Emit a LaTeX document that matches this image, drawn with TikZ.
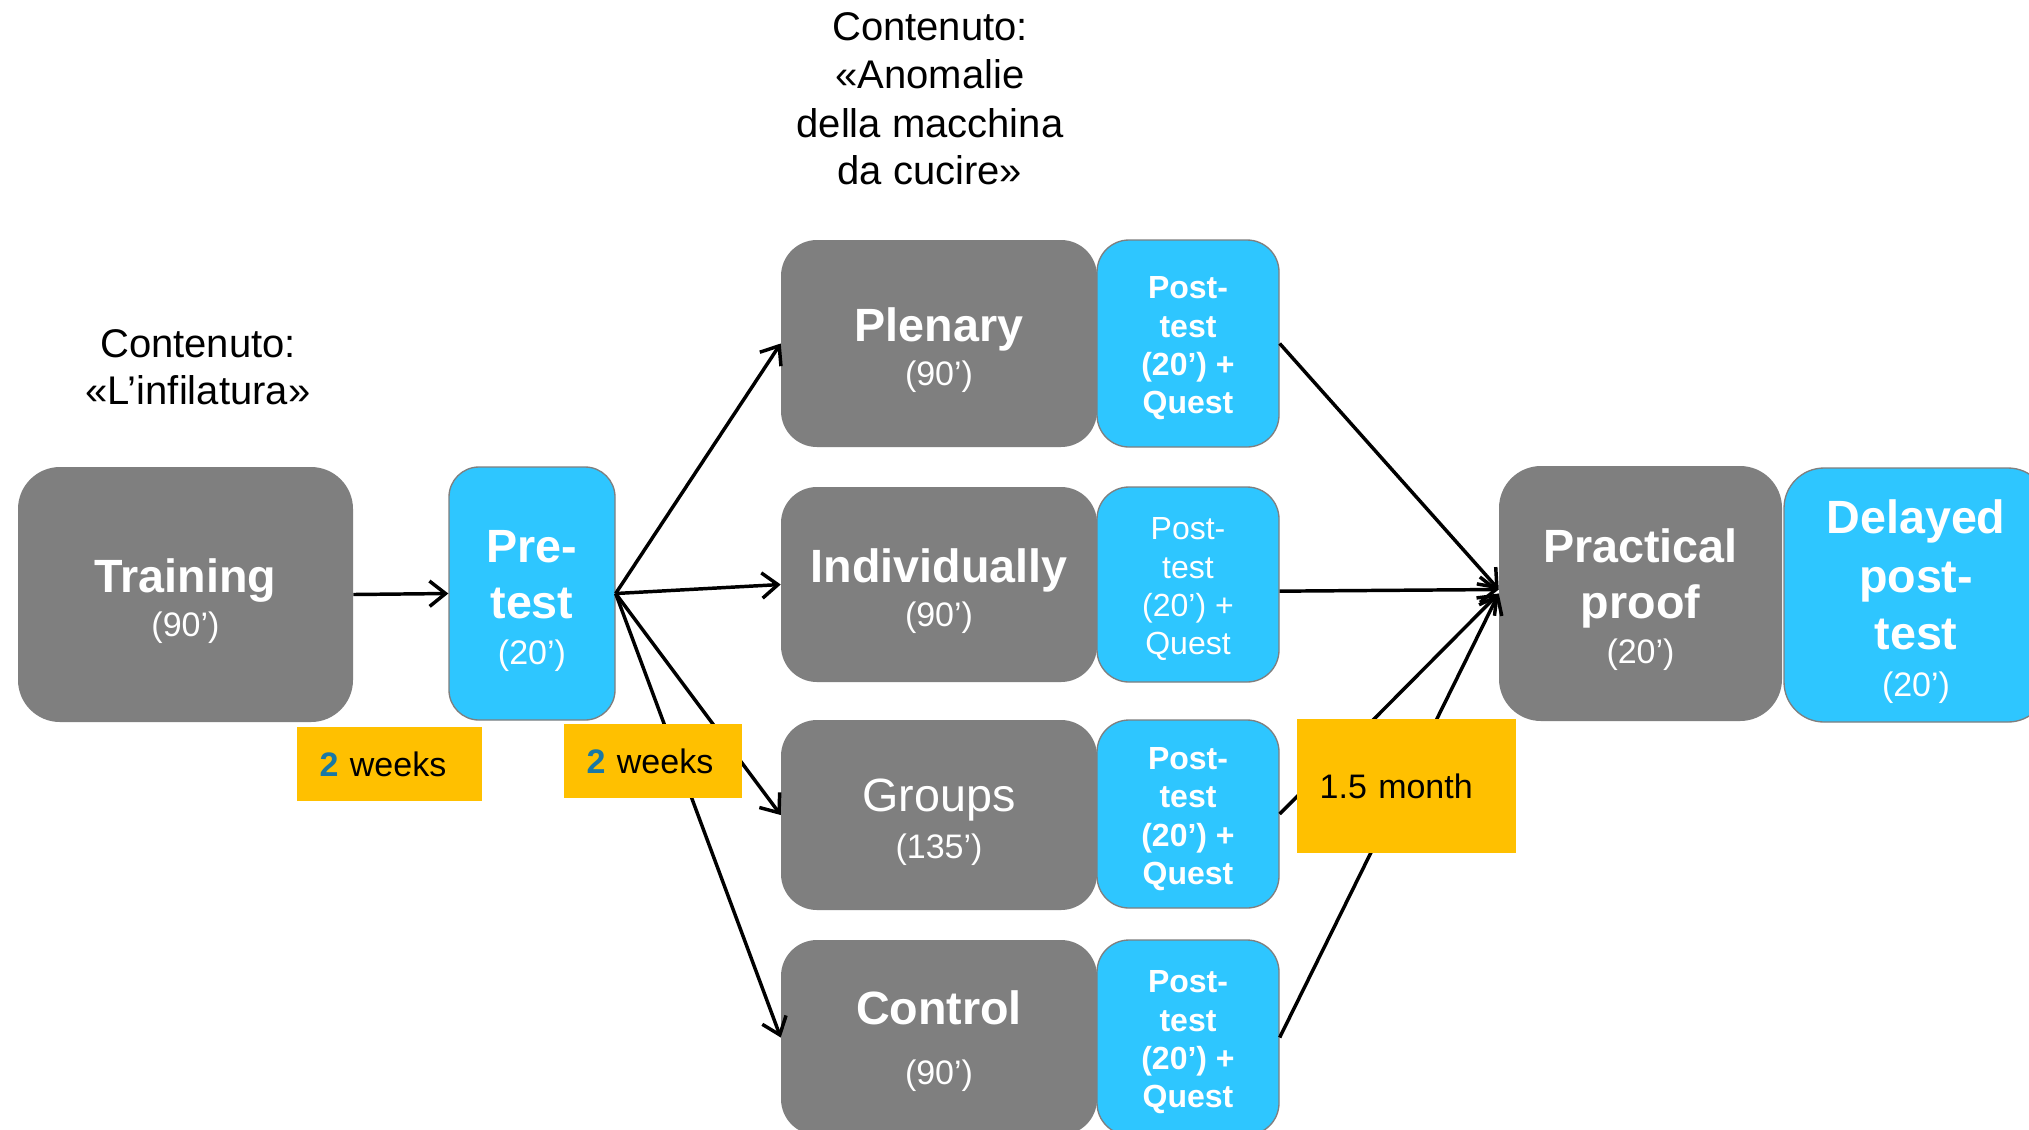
\documentclass[tikz,border=0pt]{standalone}
\usepackage{fontspec}
\setmainfont{Liberation Sans}
\usetikzlibrary{arrows.meta}
\definecolor{boxgray}{RGB}{127,127,127}
\definecolor{boxblue}{RGB}{46,198,255}
\definecolor{boxyellow}{RGB}{255,192,0}
\definecolor{numblue}{RGB}{25,120,165}
\newcommand\mybigb[1]{{\fontsize{35}{33}\selectfont\bfseries #1}}
\newcommand\mybigr[1]{{\fontsize{35}{33}\selectfont #1}}
\newcommand\mydrop[1]{\rule{0pt}{#1}}
\newcommand\myposttest{\mydrop{24pt}\bfseries Post-\\\bfseries test\\\bfseries (20’) +\\\bfseries Quest}
\begin{document}
\begin{tikzpicture}[x=0.75pt,y=-0.75pt,
  graybox/.style={fill=boxgray, draw=none, rounded corners=#1, inner sep=0pt, align=center, text=white},
  bluebox/.style={fill=boxblue, draw=boxgray, line width=1pt, rounded corners=#1, inner sep=0pt, align=center, text=white},
  ptbox/.style={bluebox=24pt, minimum width=136.5pt, font=\fontsize{24}{28.75}\selectfont},
  yellowbox/.style={fill=boxyellow, draw=none, inner ysep=0pt, inner xsep=17pt, align=left, font=\fontsize{25.5}{30}\selectfont, text=black},
  plaintext/.style={anchor=base, inner sep=0pt, font=\fontsize{30}{36}\selectfont, text=black},
  arrow/.style={draw=black, line width=2.6pt, -{Straight Barb[length=12pt,width=19pt,line width=2.6pt]}}
]
\clip (0,0) rectangle (2029,1129);
\fill[white] (0,0) rectangle (2029,1129);

% top and left texts
\node[plaintext] (ct1) at (930,40) {Contenuto:};
\node[plaintext] (ct2) at (930,88) {«Anomalie};
\node[plaintext] (ct3) at (930,137) {della macchina};
\node[plaintext] (ct4) at (930,184) {da cucire»};
\node[plaintext] (cl1) at (198,357) {Contenuto:};
\node[plaintext] (cl2) at (198,404) {«L’infilatura»};

% boxes
\node[graybox=31.5pt, minimum width=251.25pt, minimum height=191.25pt,
      font=\fontsize{25.5}{33}\selectfont] (train) at (185.5,594.5)
      {\mydrop{35pt}\mybigb{Training}\\(90’)};
\node[bluebox=22.5pt, minimum width=124.5pt, minimum height=189.75pt,
      font=\fontsize{25.5}{42}\selectfont] (pre) at (532,593.5)
      {\mydrop{35pt}\mybigb{Pre-}\\\mybigb{test}\\[-7.5pt](20’)};

\node[graybox=27pt, minimum width=237pt, minimum height=155.25pt,
      font=\fontsize{25.5}{33}\selectfont] (plen) at (939,343.5)
      {\mydrop{35pt}\mybigb{Plenary}\\(90’)};
\node[ptbox, minimum height=155.25pt] (plenpt) at (1188,343.5) {\myposttest};

\node[graybox=27pt, minimum width=237pt, minimum height=146.25pt,
      font=\fontsize{25.5}{33}\selectfont] (ind) at (939,584.5)
      {\mydrop{35pt}\mybigb{Individually}\\(90’)};
\node[ptbox, minimum height=146.25pt] (indpt) at (1188,584.5)
      {\mydrop{24pt}Post-\\test\\(20’) +\\Quest};

\node[graybox=27pt, minimum width=237pt, minimum height=142.5pt,
      font=\fontsize{25.5}{35.25}\selectfont] (grp) at (939,815)
      {\mydrop{35pt}\mybigr{Groups}\\(135’)};
\node[ptbox, minimum height=141pt] (grppt) at (1188,814) {\myposttest};

\node[graybox=27pt, minimum width=237pt, minimum height=146.25pt,
      font=\fontsize{25.5}{45}\selectfont] (ctl) at (939,1037.5)
      {\mydrop{31pt}\mybigb{Control}\\(90’)};
\node[ptbox, minimum height=146.25pt] (ctlpt) at (1188,1037.5) {\myposttest};

\node[graybox=31.5pt, minimum width=212.25pt, minimum height=191.25pt,
      font=\fontsize{25.5}{42}\selectfont] (prac) at (1640.5,593.5)
      {\mydrop{35pt}\mybigb{Practical}\\\mybigb{proof}\\[-8.25pt](20’)};
\node[bluebox=30pt, minimum width=198pt, minimum height=190.5pt,
      font=\fontsize{25.5}{44}\selectfont] (del) at (1916,595)
      {\mydrop{35pt}\mybigb{Delayed}\\[0.5pt]\mybigb{post-}\\[-1pt]\mybigb{test}\\[-9pt](20’)};

% connectors
\draw[arrow] (train.east) -- (pre.west);
\draw[arrow] (pre.east) -- (plen.west);
\draw[arrow] (pre.east) -- (ind.west);
\draw[arrow] (pre.east) -- (grp.west);
\draw[arrow] (pre.east) -- (ctl.west);
\draw[arrow] (plenpt.east) -- ([yshift=3pt]prac.west);
\draw[arrow] ([yshift=-5pt]indpt.east) -- ([yshift=3pt]prac.west);
\draw[arrow] (grppt.east) -- (prac.west);
\draw[arrow] (ctlpt.east) -- (prac.west);

% time labels
\node[yellowbox, text width=104.75pt, minimum height=55.5pt] (wk1) at (389.5,764)
      {{\bfseries\color{numblue}2} weeks};
\node[yellowbox, text width=99.5pt, minimum height=55.5pt] (wk2) at (653,761)
      {{\bfseries\color{numblue}2} weeks};
\node[yellowbox, text width=130.25pt, minimum height=100.5pt] (mon) at (1406.5,786)
      {1.5 month};
\end{tikzpicture}
\end{document}
